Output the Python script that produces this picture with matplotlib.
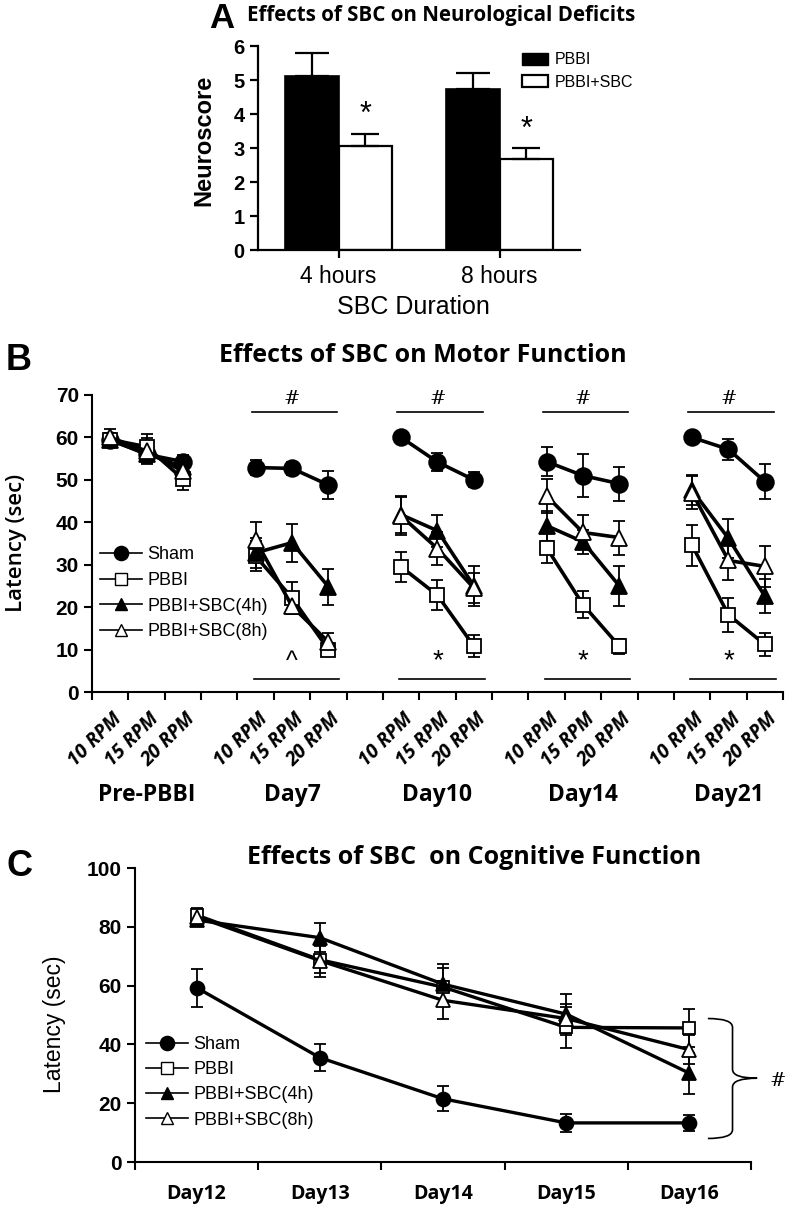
import matplotlib
matplotlib.use("Agg")
import matplotlib.pyplot as plt
from matplotlib.lines import Line2D
from matplotlib.patches import Patch, PathPatch
from matplotlib.path import Path
import matplotlib.transforms as mtransforms
import numpy as np

# ---- panel A data ----
durations = ["4 hours", "8 hours"]
pbbi_a = [5.13, 4.75]
pbbi_a_err = [0.65, 0.46]
sbc_a = [3.05, 2.69]
sbc_a_err = [0.36, 0.30]

# ---- panel B data (rotarod) ----
groups_b = ["Pre-PBBI", "Day7", "Day10", "Day14", "Day21"]
speeds = ["10 RPM", "15 RPM", "20 RPM"]
sham_b = [59.5, 56.0, 54.3, 52.9, 52.7, 48.8, 60.0, 54.2, 50.0, 54.3, 51.0, 49.1, 60.0, 57.2, 49.6]
sham_b_err = [1.5, 2.0, 1.5, 1.7, 1.5, 3.2, 0.5, 2.2, 1.8, 3.4, 5.0, 4.0, 0.5, 2.5, 4.2]
pbbi_b = [59.5, 57.8, 50.2, 32.0, 22.2, 10.0, 29.5, 22.8, 10.8, 34.0, 20.6, 10.8, 34.6, 18.2, 11.2]
pbbi_b_err = [1.5, 3.0, 2.5, 3.5, 3.7, 1.6, 3.5, 3.5, 2.6, 3.7, 3.2, 1.8, 4.8, 4.0, 2.8]
sbc4_b = [59.3, 56.2, 53.0, 32.8, 35.2, 24.8, 41.8, 38.0, 25.0, 39.2, 35.4, 25.0, 47.6, 36.2, 22.6]
sbc4_b_err = [1.5, 2.0, 2.0, 3.5, 4.5, 4.3, 4.3, 3.8, 4.8, 3.5, 2.8, 4.7, 3.6, 4.5, 4.0]
sbc8_b = [60.0, 56.8, 52.0, 35.8, 20.2, 11.8, 41.5, 33.8, 24.5, 46.2, 37.6, 36.4, 47.0, 31.0, 29.6]
sbc8_b_err = [2.0, 3.0, 3.0, 4.2, 1.8, 2.0, 4.5, 3.8, 3.5, 4.0, 4.0, 4.0, 3.8, 4.5, 4.8]

# ---- panel C data (water maze) ----
days_c = ["Day12", "Day13", "Day14", "Day15", "Day16"]
sham_c = [59.3, 35.5, 21.5, 13.3, 13.3]
sham_c_err = [6.5, 4.5, 4.3, 3.0, 2.8]
pbbi_c = [84.0, 68.8, 59.5, 45.8, 45.6]
pbbi_c_err = [2.5, 4.5, 6.5, 7.0, 6.5]
sbc4_c = [82.3, 76.3, 60.5, 50.3, 30.2]
sbc4_c_err = [2.0, 5.0, 7.0, 7.0, 7.0]
sbc8_c = [83.5, 68.5, 55.0, 48.8, 38.2]
sbc8_c_err = [2.0, 5.5, 6.5, 5.0, 5.0]

series_names = ["Sham", "PBBI", "PBBI+SBC(4h)", "PBBI+SBC(8h)"]

ARIAL = "Liberation Sans"
CALIBRI = "Open Sans"
W, H = 792, 1211


def px(x, y):
    return x / W, 1 - y / H


def ax_rect(l, t, r, b):
    return [l / W, 1 - b / H, (r - l) / W, (b - t) / H]


def style_ticklabels(labels, size, weight="bold", family=ARIAL):
    for lab in labels:
        lab.set_fontsize(size)
        lab.set_fontweight(weight)
        lab.set_family(family)


fig = plt.figure(figsize=(W / 100, H / 100), dpi=100)

# =========== A ===========
axA = fig.add_axes(ax_rect(258, 46, 580, 250))
xa = np.arange(len(durations))
bw = 0.33
axA.bar(xa - bw, pbbi_a, bw, align="edge", color="black", edgecolor="black", lw=1.2,
        yerr=[[0, 0], pbbi_a_err], error_kw=dict(ecolor="black", elinewidth=1.6, capsize=12, capthick=1.6))
axA.bar(xa, sbc_a, bw, align="edge", color="white", edgecolor="black", lw=1.6,
        yerr=[[0, 0], sbc_a_err], error_kw=dict(ecolor="black", elinewidth=1.6, capsize=10, capthick=1.6))
for i in range(2):
    axA.text(xa[i] + bw / 2, sbc_a[i] + sbc_a_err[i] + 0.55, "*", ha="center", va="center",
             fontsize=22, family=ARIAL)
axA.set_xlim(-0.5, 1.5)
axA.set_ylim(0, 6)
axA.set_xticks(xa, durations)
style_ticklabels(axA.get_xticklabels(), 16.5, "normal")
axA.tick_params(axis="x", pad=5)
axA.set_yticks(range(7))
style_ticklabels(axA.get_yticklabels(), 14.5)
for s in ["top", "right"]:
    axA.spines[s].set_visible(False)
for s in ["left", "bottom"]:
    axA.spines[s].set_linewidth(1.6)
axA.tick_params(width=1.6, length=6)
axA.legend(handles=[Patch(facecolor="black", edgecolor="black"),
                    Patch(facecolor="white", edgecolor="black", lw=1.6)],
           labels=["PBBI", "PBBI+SBC"], loc="upper left",
           bbox_to_anchor=px(508, 38), bbox_transform=fig.transFigure,
           frameon=False, handlelength=1.6, handleheight=0.8, labelspacing=0.45,
           handletextpad=0.4, prop=dict(family=ARIAL, size=11.5))
fig.text(*px(222, 19), "A", fontsize=25, fontweight="bold", family=ARIAL, ha="center", va="center")
fig.text(*px(441, 15), "Effects of SBC on Neurological Deficits", fontsize=14.8, fontweight="bold",
         family=CALIBRI, ha="center", va="center")
fig.text(*px(204, 140), "Neuroscore", rotation=90, fontsize=17, fontweight="bold", family=ARIAL,
         ha="center", va="center")
fig.text(*px(413, 307), "SBC Duration", fontsize=18, family=ARIAL, ha="center", va="center")

# =========== B ===========
axB = fig.add_axes(ax_rect(92, 395, 783, 692))
styles = [dict(marker="o", mfc="black", ms=12),
          dict(marker="s", mfc="white", ms=10),
          dict(marker="^", mfc="black", ms=11),
          dict(marker="^", mfc="white", ms=11)]
b_series = [(sham_b, sham_b_err), (pbbi_b, pbbi_b_err), (sbc4_b, sbc4_b_err), (sbc8_b, sbc8_b_err)]
for g in range(len(groups_b)):
    xg = np.arange(3) + 4 * g
    for (vals, errs), st in zip(b_series, styles):
        v = vals[3 * g:3 * g + 3]
        e = errs[3 * g:3 * g + 3]
        axB.errorbar(xg, v, yerr=e, fmt="none", ecolor="black", elinewidth=1.3, capsize=4, capthick=1.3, zorder=2)
        axB.plot(xg, v, color="black", lw=2.6, mec="black", mew=1.3, zorder=3, **st)
    if g > 0:
        axB.plot([4 * g - 0.1, 4 * g + 2.25], [66, 66], color="black", lw=1.2)
        axB.text(4 * g + 1, 67, "#", ha="center", va="bottom", fontsize=14, family="DejaVu Serif")
        axB.plot([4 * g - 0.05, 4 * g + 2.3], [3.1, 3.1], color="black", lw=1.2)
        axB.text(4 * g + 1, 4.2, "^" if g == 1 else "*", ha="center", va="bottom",
                 fontsize=18 if g == 1 else 20, family=ARIAL)
axB.set_xlim(-0.5, 18.5)
axB.set_ylim(0, 70)
axB.set_xticks(np.arange(-0.5, 19, 1), [""] * 20)
axB.set_yticks(range(0, 71, 10))
style_ticklabels(axB.get_yticklabels(), 15)
for s in ["top", "right"]:
    axB.spines[s].set_visible(False)
for s in ["left", "bottom"]:
    axB.spines[s].set_linewidth(1.5)
axB.tick_params(which="major", width=1.5, length=6)
trB = mtransforms.blended_transform_factory(axB.transData, fig.transFigure)
for g, name in enumerate(groups_b):
    for j, sp in enumerate(speeds):
        axB.text(4 * g + j + 0.25, 1 - 716 / H, sp, transform=trB, rotation=45, ha="right", va="center",
                 rotation_mode="anchor", fontsize=14, fontweight="bold", fontstyle="italic", family=CALIBRI)
    axB.text(4 * g + 1, 1 - 795 / H, name, transform=trB, ha="center", va="center",
             fontsize=16.5, fontweight="bold", family=CALIBRI)

leg_handles = [Line2D([], [], color="black", lw=1.2, marker=st["marker"], mfc=st["mfc"], mec="black",
                      ms=st["ms"] * 0.85) for st in styles]
axB.legend(leg_handles, series_names, loc="upper left", bbox_to_anchor=px(93, 539),
           bbox_transform=fig.transFigure, frameon=False, handlelength=2.3, handletextpad=0.3,
           labelspacing=0.48, borderaxespad=0, prop=dict(family=ARIAL, size=13))
fig.text(*px(19, 360), "B", fontsize=26, fontweight="bold", family=ARIAL, ha="center", va="center")
fig.text(*px(423, 356), "Effects of SBC on Motor Function", fontsize=18, fontweight="bold",
         family=CALIBRI, ha="center", va="center")
fig.text(*px(17, 543), "Latency (sec)", rotation=90, fontsize=16, fontweight="semibold",
         family=CALIBRI, ha="center", va="center")

# =========== C ===========
axC = fig.add_axes(ax_rect(135, 868, 751, 1162))
xc = np.arange(len(days_c))
c_series = [(sham_c, sham_c_err), (pbbi_c, pbbi_c_err), (sbc4_c, sbc4_c_err), (sbc8_c, sbc8_c_err)]
c_ms = [10, 8.5, 9.5, 9.5]
for (vals, errs), st, ms in zip(c_series, styles, c_ms):
    axC.errorbar(xc, vals, yerr=errs, fmt="none", ecolor="black", elinewidth=1.3, capsize=4, capthick=1.3, zorder=2)
    axC.plot(xc, vals, color="black", lw=2.4, marker=st["marker"], mfc=st["mfc"], mec="black",
             mew=1.3, ms=ms, zorder=3)
axC.set_xlim(-0.5, 4.5)
axC.set_ylim(0, 100)
axC.set_xticks(np.arange(-0.5, 5, 1), [""] * 6)
axC.set_xticks(xc, days_c, minor=True)
axC.tick_params(axis="x", which="minor", length=0, pad=16)
style_ticklabels(axC.get_xticklabels(minor=True), 14, "bold", CALIBRI)
axC.set_yticks(range(0, 101, 20))
style_ticklabels(axC.get_yticklabels(), 15)
for s in ["top", "right"]:
    axC.spines[s].set_visible(False)
for s in ["left", "bottom"]:
    axC.spines[s].set_linewidth(1.5)
axC.tick_params(which="major", width=1.5, length=6)

# curly brace
xl, xm, xt = 4.15, 4.35, 4.55
yt, ymid, yb = 48.8, 28.5, 8.0
verts = [(xl, yt), (xm, yt), (xm, yt - 3), (xm, ymid + 3), (xm, ymid), (xt, ymid),
         (xm, ymid), (xm, ymid - 3), (xm, yb + 3), (xm, yb), (xl, yb)]
codes = [Path.MOVETO, Path.CURVE3, Path.CURVE3, Path.LINETO, Path.CURVE3, Path.CURVE3,
         Path.CURVE3, Path.CURVE3, Path.LINETO, Path.CURVE3, Path.CURVE3]
axC.add_patch(PathPatch(Path(verts, codes), fill=False, lw=1.2, color="black", clip_on=False))
axC.text(4.72, 27.5, "#", ha="center", va="center", fontsize=14, family="DejaVu Serif", clip_on=False)

axC.legend(leg_handles, series_names, loc="upper left", bbox_to_anchor=px(139, 1029),
           bbox_transform=fig.transFigure, frameon=False, handlelength=2.3, handletextpad=0.3,
           labelspacing=0.45, borderaxespad=0, prop=dict(family=ARIAL, size=13))
fig.text(*px(20, 866), "C", fontsize=26, fontweight="bold", family=ARIAL, ha="center", va="center")
fig.text(*px(474, 858), "Effects of SBC  on Cognitive Function", fontsize=18, fontweight="bold",
         family=CALIBRI, ha="center", va="center")
fig.text(*px(55, 1024), "Latency (sec)", rotation=90, fontsize=16.5, family=ARIAL,
         ha="center", va="center")

fig.savefig("out.png", dpi=100)
